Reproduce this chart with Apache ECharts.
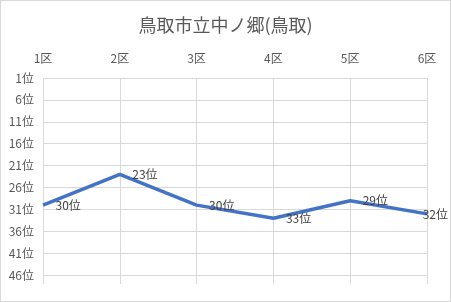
<!DOCTYPE html>
<html><head><meta charset="utf-8">
<script src="https://cdn.jsdelivr.net/npm/echarts@6/dist/echarts.min.js"></script>
<style>html,body{margin:0;padding:0;background:#fff}#c{width:451px;height:302px;box-sizing:border-box;border:1px solid #d9d9d9}</style>
</head><body><div id="c"></div>
<script>
const title = '鳥取市立中ノ郷(鳥取)';
const categories = ['1区','2区','3区','4区','5区','6区'];
const ranks = [30, 23, 30, 33, 29, 32];
const yMin = 1, yMax = 48, yStep = 5;
const font = '"Noto Sans CJK JP", "Noto Sans", sans-serif';
const chartW = 451;
const chart = echarts.init(document.getElementById('c'), null, {renderer:'canvas'});
chart.setOption({
  animation: false,
  title: {text: title, left: 'center', top: 10, textStyle: {fontFamily: font, fontSize: 18, fontWeight: 'normal', color: '#595959'}},
  grid: {left: 42, right: 23, top: 77, bottom: 17, containLabel: false},
  xAxis: {
    type: 'category', data: categories, position: 'top', boundaryGap: false,
    axisLine: {show: false}, axisTick: {show: false},
    axisLabel: {fontFamily: font, fontSize: 12, color: '#595959', margin: 14},
    splitLine: {show: true, lineStyle: {color: '#d9d9d9', width: 1}}
  },
  yAxis: {
    type: 'value', inverse: true, min: yMin, max: yMax, interval: yStep,
    axisLine: {show: false}, axisTick: {show: false},
    axisLabel: {fontFamily: font, fontSize: 12, color: '#595959', margin: 9,
      formatter: v => ((v - yMin) % yStep === 0 ? v + '位' : '')},
    splitLine: {show: true, showMaxLine: false, lineStyle: {color: '#d9d9d9', width: 1}}
  },
  series: [{
    type: 'line', data: ranks, symbol: 'circle', symbolSize: 1, showSymbol: true,
    itemStyle: {color: 'rgba(0,0,0,0)', borderWidth: 0},
    lineStyle: {color: '#4472C4', width: 3.5},
    labelLayout: function (p) {
      const r = p.labelRect;
      const maxX = chartW - 4 - r.width;
      return r.x > maxX
        ? {x: maxX, y: r.y + r.height / 2, align: 'left', verticalAlign: 'middle', hideOverlap: false}
        : {hideOverlap: false};
    },
    label: {show: true, position: 'right', distance: 12, offset: [0, 1], formatter: p => p.value + '位',
      fontFamily: font, fontSize: 12, color: '#404040'}
  }]
});
</script></body></html>
